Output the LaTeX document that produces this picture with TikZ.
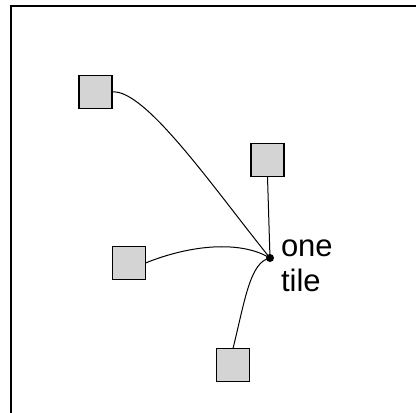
\documentclass[tikz,border=0pt]{standalone}
\usepackage{fontspec}
\setmainfont{Liberation Sans}
\begin{document}
\begin{tikzpicture}[x=1pt, y=-1pt, line join=miter, every node/.style={outer sep=0pt},
	cell/.style={draw, fill=black!17, line width=1.2pt, minimum size=33pt, inner sep=0pt},
	wire/.style={line width=1pt}]
	\useasboundingbox (0,0) rectangle (416,413);
	
	% Rahmen
	\draw[line width=1.6pt] (11,413) -- (11,6) -- (416,6);
	
	% Kacheln
	\node[cell] (nw) at (95.5, 92) {};
	\node[cell] (ne) at (267.5, 160) {};
	\node[cell] (w) at (129, 263) {};
	\node[cell] (s) at (233, 365) {};
	
	% Zielpunkt
	\node[circle, fill=black, inner sep=0pt, minimum size=8pt] (hub) at (270, 258) {};
	\node[anchor=west, align=left, inner sep=0pt, font=\fontsize{31}{35}\selectfont] (lbl) at (281, 266) {one\\tile};
	
	% Verbindungen
	\draw[wire] (nw.east) .. controls (145, 88) and (215, 190) .. (hub.center);
	\draw[wire] (ne.south) -- (hub.center);
	\draw[wire] (w.east) .. controls (190, 245) and (240, 240) .. (hub.center);
	\draw[wire] (s.north) .. controls (245, 300) and (250, 262) .. (hub.center);
\end{tikzpicture}
\end{document}
